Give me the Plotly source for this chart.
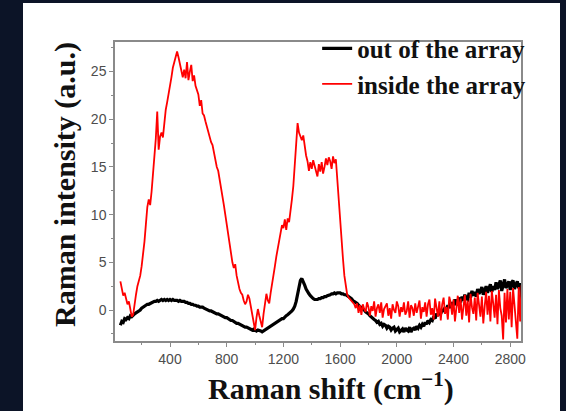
import plotly.graph_objects as go

# Raman shift grid (cm^-1), 10 cm^-1 steps from 50 to 2890
shift_start = 50
shift_step = 10

out_of_array = [
    -1.6, -1.2, -1.3, -0.9, -1.0, -0.8, -0.9, -0.6, -0.7, -0.5,
    -0.4, -0.3, -0.2, 0.0, 0.0, 0.2, 0.3, 0.4, 0.4, 0.6,
    0.6, 0.7, 0.8, 0.8, 0.9, 0.9, 1.0, 0.9, 1.0, 1.1,
    1.0, 1.1, 1.0, 1.1, 1.0, 1.1, 1.0, 1.1, 1.0, 1.0,
    1.0, 0.9, 1.0, 0.9, 0.9, 0.9, 0.8, 0.8, 0.7, 0.7,
    0.6, 0.6, 0.5, 0.5, 0.4, 0.4, 0.3, 0.3, 0.3, 0.2,
    0.1, 0.1, 0.0, -0.1, -0.1, -0.2, -0.3, -0.3, -0.4, -0.4,
    -0.5, -0.6, -0.6, -0.7, -0.8, -0.8, -0.9, -1.0, -1.1, -1.1,
    -1.2, -1.3, -1.4, -1.4, -1.5, -1.6, -1.6, -1.7, -1.8, -1.8,
    -1.9, -1.9, -2.0, -2.1, -2.0, -2.1, -2.2, -2.1, -2.2, -2.2,
    -2.3, -2.2, -2.2, -2.0, -2.0, -1.9, -1.8, -1.7, -1.6, -1.4,
    -1.3, -1.2, -1.1, -1.0, -0.9, -0.9, -0.7, -0.6, -0.5, -0.4,
    -0.2, -0.1, 0.1, 0.4, 0.9, 1.6, 2.4, 3.1, 3.3, 3.0,
    2.6, 2.2, 1.9, 1.7, 1.5, 1.3, 1.2, 1.1, 1.1, 1.1,
    1.2, 1.2, 1.3, 1.3, 1.4, 1.4, 1.5, 1.6, 1.6, 1.7,
    1.7, 1.8, 1.7, 1.8, 1.8, 1.8, 1.7, 1.7, 1.6, 1.6,
    1.5, 1.4, 1.3, 1.2, 1.0, 0.9, 0.8, 0.7, 0.5, 0.4,
    0.3, 0.1, 0.0, -0.2, -0.3, -0.4, -0.6, -0.7, -0.9, -1.0,
    -1.1, -1.3, -1.2, -1.5, -1.4, -1.7, -1.5, -1.6, -1.9, -1.7,
    -1.8, -2.1, -1.9, -1.8, -2.2, -2.0, -1.9, -2.3, -2.1, -2.0,
    -2.3, -1.9, -2.1, -2.2, -1.8, -2.3, -2.0, -1.9, -2.1, -1.7,
    -1.9, -1.6, -1.8, -1.5, -1.7, -1.3, -1.5, -1.1, -1.3, -1.0,
    -1.1, -0.7, -0.9, -0.4, -0.6, -0.2, -0.4, 0.1, -0.2, 0.3,
    0.0, 0.5, 0.2, 0.8, 0.4, 0.6, 1.1, 0.5, 1.0, 1.3,
    0.8, 1.4, 1.0, 1.6, 1.2, 1.1, 1.8, 1.3, 2.0, 1.5,
    1.9, 1.4, 2.2, 1.7, 2.0, 2.4, 1.6, 2.1, 2.5, 1.8,
    2.3, 2.7, 1.9, 2.5, 2.1, 2.9, 2.2, 2.6, 3.1, 2.0,
    2.8, 3.2, 2.3, 2.6, 3.0, 2.1, 2.9, 3.1, 2.2, 2.7,
    3.0, 2.3, 2.8, 1.5, -2.6,
]

inside_array = [
    3.0, 2.2, 1.5, 1.8, 1.0, 0.6, 0.9, 0.0, -0.7, -0.5,
    0.8, 1.6, 2.5, 3.0, 3.6, 4.6, 5.8, 7.2, 9.0, 10.8,
    11.6, 11.0, 12.4, 14.2, 16.0, 18.0, 20.8, 16.8, 18.2, 18.6,
    18.1, 19.8, 21.0, 21.8, 22.6, 23.2, 24.4, 25.4, 26.0, 26.4,
    27.1, 26.5, 25.8, 25.0, 24.4, 25.2, 24.3, 26.0, 24.1, 25.0,
    25.7, 24.0, 24.6, 23.5, 23.0, 22.6, 21.4, 22.0, 20.6, 20.4,
    19.8, 19.2, 18.9, 18.2, 17.6, 17.3, 16.4, 15.8, 15.0, 14.6,
    13.8, 12.6, 11.8, 11.0, 10.0, 8.9, 8.0, 6.8, 5.6, 5.0,
    4.4, 4.8, 3.6, 2.8, 2.2, 1.8, 1.6, 1.0, 0.6, 0.9,
    1.6, 1.2, 0.3, -0.6, -1.4, -2.1, -0.8, 0.1, -0.6, -1.2,
    -1.8, -0.4, 0.8, 1.7, 1.0, 0.7, 1.8, 2.6, 3.6, 4.6,
    5.6, 6.4, 7.2, 8.1, 8.9, 8.6, 9.5, 8.4, 9.6, 9.2,
    10.2, 11.6, 13.0, 15.2, 17.6, 19.6, 18.6, 18.2, 17.8, 18.3,
    16.9, 16.2, 15.6, 14.6, 15.5, 14.8, 15.7, 15.1, 14.4, 14.0,
    15.3, 14.5, 15.5, 14.3, 15.0, 15.9, 15.2, 16.0, 15.6, 14.8,
    16.1, 15.4, 15.8, 13.6, 11.2, 9.6, 7.6, 5.4, 3.6, 2.3,
    1.6, 1.3, 1.1, 0.9, 0.8, 0.6, 0.2, 0.7, -0.3, 0.5,
    -0.5, 0.6, 0.1, -0.2, 0.8, 0.3, -0.6, 0.4, -0.1, 0.9,
    -0.7, 0.2, 0.6, -0.3, 0.8, -0.8, 0.1, 0.5, 0.7, -0.6,
    0.2, -0.9, 0.6, 0.0, -0.3, 0.9, 0.4, -0.7, 0.3, -0.2,
    0.8, -0.5, -0.1, 0.9, -0.8, 0.5, 0.2, -0.6, 0.7, -0.3,
    0.4, 1.0, -0.9, 0.3, -0.2, 0.8, -0.7, 0.6, 1.1, -0.5,
    0.2, -1.0, 1.2, 0.4, -0.7, 0.9, -1.1, 0.6, 1.3, -0.4,
    0.3, -1.0, 1.4, 0.8, -0.5, 1.1, -1.2, 0.2, 1.5, -0.3,
    1.2, -1.0, 0.5, 1.6, -0.6, 1.0, -1.3, 1.7, 0.3, -0.4,
    1.3, -1.1, 1.8, 0.6, -0.7, 1.4, -1.4, 0.4, 1.9, -0.5,
    1.5, -1.2, 2.0, 0.7, -0.8, 1.6, -1.5, 2.1, 0.2, -0.6,
    -3.1, 1.8, -1.3, 2.2, -1.0, 1.9, -1.8, 2.3, 0.5, -0.9,
    -3.0, 2.4, -1.2, 2.6, -2.8,
]

raman_shift = [shift_start + shift_step * i for i in range(len(inside_array))]

x_ticks = [400, 800, 1200, 1600, 2000, 2400, 2800]
y_ticks = [0, 5, 10, 15, 20, 25]

series_names = ["out of the array", "inside the array"]
series_colors = ["#000000", "#ff0000"]

fig = go.Figure()
fig.add_trace(go.Scatter(x=raman_shift, y=out_of_array, mode="lines",
                         name="<b>" + series_names[0] + "</b>",
                         line=dict(color=series_colors[0], width=3.2)))
fig.add_trace(go.Scatter(x=raman_shift, y=inside_array, mode="lines",
                         name="<b>" + series_names[1] + "</b>",
                         line=dict(color=series_colors[1], width=1.8)))

W, H = 566, 411
L, R, T, B = 115, 45, 42, 70
pw, ph = W - L - R, H - T - B

def px_x(p):
    return (p - L) / pw

def px_y(p):
    return (H - B - p) / ph

axis_common = dict(
    showline=True, linecolor="#8a8a8a", linewidth=1.5, mirror=True,
    ticks="outside", ticklen=4, tickwidth=1.2, tickcolor="#8a8a8a",
    showgrid=False, zeroline=False,
    tickfont=dict(family="Liberation Sans, Arial", size=14, color="#4d4d4d"),
)

fig.update_layout(
    width=W, height=H,
    margin=dict(l=L, r=R, t=T, b=B, pad=0),
    paper_bgcolor="#0c1427",
    plot_bgcolor="#ffffff",
    showlegend=True,
    legend=dict(x=1.025, y=1.055, xanchor="right", yanchor="top",
                bgcolor="rgba(0,0,0,0)", borderwidth=0,
                font=dict(family="Liberation Serif, Times New Roman", size=25, color="#111111"),
                tracegroupgap=0, itemwidth=30),
    xaxis=dict(range=[12, 2876], tickvals=x_ticks,
               minor=dict(dtick=200, ticklen=2.5, tickcolor="#8a8a8a", ticks="outside"),
               **axis_common),
    yaxis=dict(range=[-3.25, 28.1], tickvals=y_ticks,
               minor=dict(dtick=2.5, ticklen=2.5, tickcolor="#8a8a8a", ticks="outside"),
               **axis_common),
    shapes=[dict(type="rect", xref="paper", yref="paper", layer="below",
                 x0=px_x(23), x1=px_x(560), y0=px_y(411), y1=px_y(3),
                 fillcolor="#ffffff", line=dict(width=0))],
    annotations=[
        dict(text="<b>Raman shift (cm<sup>\u22121</sup>)</b>", xref="paper", yref="paper",
             x=px_x(331), y=px_y(386), xanchor="center", yanchor="middle",
             showarrow=False,
             font=dict(family="Liberation Serif, Times New Roman", size=30, color="#111111")),
        dict(text="<b>Raman intensity (a.u.)</b>", xref="paper", yref="paper",
             x=px_x(65), y=px_y(185), xanchor="center", yanchor="middle",
             textangle=-90, showarrow=False,
             font=dict(family="Liberation Serif, Times New Roman", size=30, color="#111111")),
    ],
)

fig.write_html("out.html")
